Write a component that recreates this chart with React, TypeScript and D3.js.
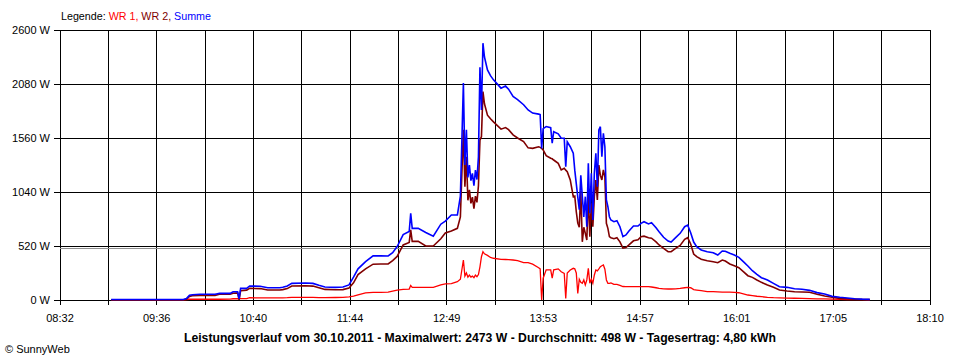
import React from "react";
import * as d3 from "d3";

// ---- data ----
const times = [
  "09:06","09:30","09:54","09:56","09:58","10:00","10:05","10:15","10:18","10:25",
  "10:27","10:30","10:31","10:32","10:36","10:38","10:45","10:50","10:58","11:00",
  "11:03","11:06","11:15","11:20","11:24","11:28","11:35","11:40","11:44","11:47",
  "11:50","11:55","12:00","12:05","12:10","12:13","12:16","12:20","12:24","12:25",
  "12:26","12:30","12:35","12:40","12:45","12:48","12:52","12:56","12:58","13:00",
  "13:01","13:02","13:03","13:04","13:05","13:06","13:07","13:08","13:09","13:10",
  "13:11","13:12","13:13","13:14","13:16","13:18","13:20","13:25","13:28","13:30",
  "13:33","13:36","13:40","13:43","13:46","13:50","13:51","13:52","13:53","13:55",
  "13:58","13:59","14:00","14:03","14:05","14:07","14:08","14:09","14:11","14:13",
  "14:14","14:15","14:16","14:17","14:18","14:19","14:20","14:21","14:22","14:23",
  "14:24","14:25","14:26","14:27","14:28","14:29","14:30","14:31","14:32","14:33",
  "14:34","14:35","14:36","14:37","14:38","14:40","14:42","14:44","14:46","14:48",
  "14:50","14:53","14:56","14:58","15:00","15:03","15:05","15:08","15:10","15:13",
  "15:16","15:18","15:21","15:24","15:27","15:29","15:31","15:33","15:35","15:38",
  "15:42","15:46","15:49","15:52","15:54","15:57","16:00","16:03","16:06","16:09",
  "16:12","16:15","16:18","16:22","16:26","16:30","16:35","16:40","16:45","16:50",
  "16:55","17:00","17:05","17:10","17:15","17:20","17:25","17:30"
];

const wr1 = [
  2,2,2,5,7,7,7,7,7,9,
  12,12,10,14,14,22,20,20,20,21,
  22,25,25,25,23,23,24,25,30,38,
  50,68,74,74,76,85,95,103,105,140,
  122,122,122,122,145,155,158,176,200,385,
  230,260,220,240,220,230,215,240,225,245,
  320,417,465,445,430,410,402,392,390,388,
  385,380,360,360,345,310,300,0,210,290,
  290,210,290,300,272,257,16,260,289,305,
  300,260,64,200,170,160,193,144,193,305,
  161,200,161,241,289,280,300,321,330,337,
  296,193,161,161,165,150,150,140,130,128,
  128,128,128,128,128,128,125,118,112,108,
  106,106,108,112,118,122,118,100,96,90,
  80,80,78,76,76,75,74,70,60,48,
  42,36,32,26,22,21,19,17,15,13,
  11,10,8,6,5,4,3,2
];

const wr2 = [
  3,3,3,8,35,42,45,45,55,55,
  65,68,2,90,95,112,110,97,97,100,
  110,135,137,134,118,102,98,100,115,165,
  245,300,345,347,347,380,420,530,555,675,
  565,565,520,520,590,645,665,690,800,1640,
  1090,1380,960,1060,930,990,880,1000,940,1100,
  1540,1573,2008,1890,1780,1745,1715,1645,1660,1640,
  1590,1560,1525,1465,1460,1475,1470,1460,1445,1390,
  1365,1360,1348,1316,1252,1268,1250,1236,1156,995,
  1000,850,740,700,1050,560,700,642,578,1027,
  610,931,706,995,1156,963,1300,1200,1156,1252,
  1187,739,690,610,600,590,600,560,500,505,
  530,570,580,610,615,600,595,560,530,498,
  465,465,498,526,584,600,540,443,417,392,
  378,369,359,385,375,347,330,311,273,234,
  218,193,170,144,122,96,87,80,77,75,
  55,39,26,16,12,8,5,4
];

const summe = [
  5,5,5,15,45,50,55,55,64,64,
  80,80,12,112,112,135,132,118,118,122,
  135,160,164,160,141,125,122,125,145,220,
  300,370,425,425,424,455,515,630,660,835,
  690,690,650,615,730,760,818,818,1000,2090,
  1300,1640,1180,1300,1150,1220,1100,1250,1160,1380,
  2240,1830,2473,2340,2215,2160,2120,2040,2060,2030,
  1960,1930,1880,1830,1800,1790,1785,1460,1650,1670,
  1660,1510,1620,1600,1557,1557,1284,1524,1476,1413,
  1250,1120,990,870,1200,1000,800,995,706,1316,
  835,1220,770,1220,1413,1091,1637,1669,1380,1605,
  1476,963,898,802,770,754,764,706,610,626,
  664,712,712,738,754,732,745,696,658,604,
  568,558,600,642,706,722,648,558,514,482,
  465,455,433,472,470,450,433,411,369,327,
  282,247,215,193,160,128,122,109,103,93,
  71,58,35,26,19,12,8,6
];

const xTickLabels = ["08:32","09:36","10:40","11:44","12:49","13:53","14:57","16:01","17:05","18:10"];
const yTickValues = [0, 520, 1040, 1560, 2080, 2600];
const averageW = 498;
const legendParts = [
  { text: "Legende: ", color: "#000000" },
  { text: "WR 1, ", color: "#ff0000" },
  { text: "WR 2, ", color: "#800000" },
  { text: "Summe", color: "#0000ff" },
];
const title = "Leistungsverlauf vom 30.10.2011 - Maximalwert: 2473 W - Durchschnitt: 498 W - Tagesertrag: 4,80 kWh";
const copyright = "\u00a9 SunnyWeb";

const toMin = (t: string) => {
  const [h, m] = t.split(":").map(Number);
  return h * 60 + m;
};

const FONT = "'Liberation Sans', Arial, sans-serif";

export default function App() {
  const W = 960, H = 360;
  const t0 = toMin(xTickLabels[0]);
  const t1 = toMin(xTickLabels[xTickLabels.length - 1]);
  const x = d3.scaleLinear().domain([t0, t1]).range([60, 930]);
  const y = d3.scaleLinear().domain([0, 2600]).range([300, 30]);

  const gridTimes = d3.range(19).map((i) => t0 + (i * (t1 - t0)) / 18);
  const tm = times.map(toMin);

  const mkLine = (vals: number[]) =>
    d3.line<number>()
      .x((_, i) => x(tm[i]))
      .y((d) => y(d))(vals) || "";

  const series = [
    { vals: wr1, color: "#ff0000", w: 1.3 },
    { vals: wr2, color: "#800000", w: 1.6 },
    { vals: summe, color: "#0000ff", w: 1.6 },
  ];

  return (
    <svg
      width={W}
      height={H}
      style={{ position: "absolute", left: 0, top: 0, background: "#ffffff" }}
      fontFamily={FONT}
    >
      <rect x={0} y={0} width={W} height={H} fill="#ffffff" />
      {/* legend */}
      <text x={61} y={20} fontSize={11} textLength={150} lengthAdjust="spacingAndGlyphs">
        {legendParts.map((p, i) => (
          <tspan key={i} fill={p.color}>{p.text}</tspan>
        ))}
      </text>

      {/* horizontal grid + y ticks */}
      <g shapeRendering="crispEdges">
        {yTickValues.map((v) => (
          <g key={v}>
            <line x1={54} x2={930} y1={y(v)} y2={y(v)} stroke="#000" strokeWidth={1} />
            <text x={50} y={y(v) + 4} fontSize={11} textAnchor="end" fill="#000">
              {`${v} W`}
            </text>
          </g>
        ))}
        {/* vertical grid + x ticks */}
        {gridTimes.map((t, i) => (
          <line key={i} x1={x(t)} x2={x(t)} y1={30} y2={305} stroke="#000" strokeWidth={1} />
        ))}
        {/* average line */}
        <line x1={60} x2={930} y1={y(averageW)} y2={y(averageW)} stroke="#909090" strokeWidth={1} />
      </g>
      {gridTimes.map((t, i) =>
        i % 2 === 0 ? (
          <text key={i} x={x(t)} y={322} fontSize={11} textAnchor="middle" fill="#000">
            {xTickLabels[i / 2]}
          </text>
        ) : null
      )}

      {/* data lines */}
      {series.map((s, i) => (
        <path key={i} d={mkLine(s.vals)} fill="none" stroke={s.color} strokeWidth={s.w} strokeLinejoin="miter" />
      ))}

      {/* title */}
      <text x={480} y={342} fontSize={12} fontWeight="bold" textAnchor="middle" fill="#000"
        textLength={592} lengthAdjust="spacingAndGlyphs">
        {title}
      </text>
      <text x={5} y={353} fontSize={11} fill="#000">{copyright}</text>
    </svg>
  );
}
